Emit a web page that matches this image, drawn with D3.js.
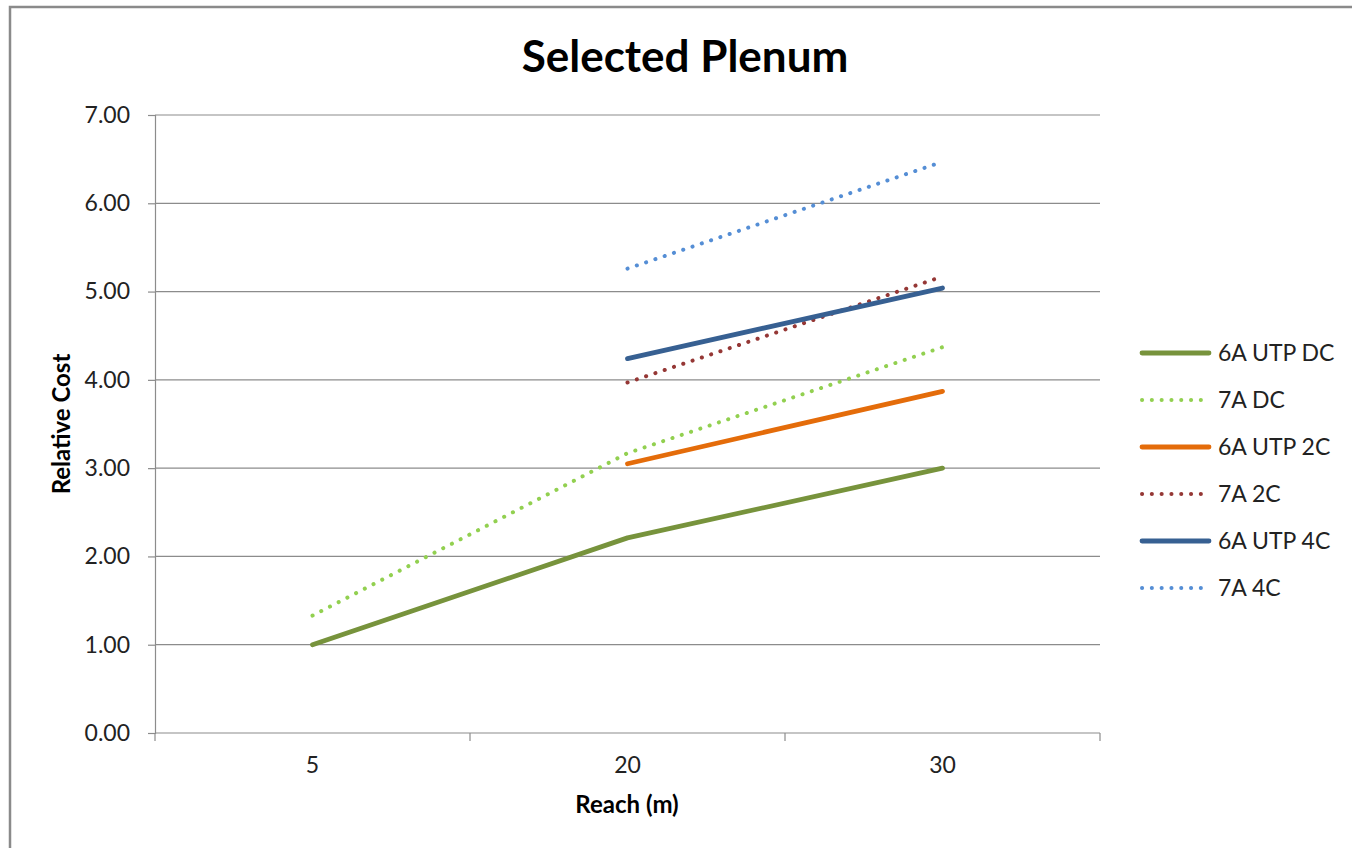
<!DOCTYPE html>
<html>
<head>
<meta charset="utf-8">
<script src="https://cdn.jsdelivr.net/npm/d3@7"></script>
<style>
  html, body { margin: 0; padding: 0; background: #fff; }
  svg { display: block; }
  text { font-family: Lato, "Open Sans", sans-serif; }
</style>
</head>
<body>
<svg id="chart" width="1352" height="848"></svg>
<script>
// Reach categories (m) and relative cost per cable type
const categories = ["5", "20", "30"];
const yTicks = [0, 1, 2, 3, 4, 5, 6, 7];

const cat6aUtpDc = [1.00, 2.21, 3.00];
const cat7aDc    = [1.33, 3.17, 4.37];
const cat6aUtp2c = [null, 3.05, 3.87];
const cat7a2c    = [null, 3.97, 5.17];
const cat6aUtp4c = [null, 4.24, 5.04];
const cat7a4c    = [null, 5.26, 6.47];

const series = [
  { name: "6A UTP DC", values: cat6aUtpDc, color: "#77933C", dotted: false },
  { name: "7A DC",     values: cat7aDc,    color: "#92D050", dotted: true },
  { name: "6A UTP 2C", values: cat6aUtp2c, color: "#E46C0A", dotted: false },
  { name: "7A 2C",     values: cat7a2c,    color: "#953735", dotted: true },
  { name: "6A UTP 4C", values: cat6aUtp4c, color: "#376092", dotted: false },
  { name: "7A 4C",     values: cat7a4c,    color: "#558ED5", dotted: true }
];

const svg = d3.select("#chart");

// chart area frame
svg.append("rect")
  .attr("x", 10).attr("y", 7)
  .attr("width", 1400).attr("height", 900)
  .attr("fill", "#fff")
  .attr("stroke", "#8a8a8a")
  .attr("stroke-width", 2.5);

const plot = { left: 155, right: 1100, top: 115, bottom: 733 };

const x = d3.scaleBand().domain(categories).range([plot.left, plot.right]).padding(0);
const y = d3.scaleLinear().domain([0, 7]).range([plot.bottom, plot.top]);

// horizontal gridlines
svg.append("g")
  .selectAll("line")
  .data(yTicks)
  .join("line")
  .attr("x1", plot.left).attr("x2", plot.right)
  .attr("y1", d => y(d)).attr("y2", d => y(d))
  .attr("stroke", "#8c8c8c")
  .attr("stroke-width", 1.2);

// y axis
const yAxis = svg.append("g")
  .attr("transform", `translate(${plot.left},0)`)
  .call(d3.axisLeft(y).tickValues(yTicks).tickFormat(d3.format(".2f")).tickSize(7).tickPadding(18));
yAxis.select(".domain").attr("stroke", "#8c8c8c").attr("stroke-width", 1.2);
yAxis.selectAll(".tick line").attr("stroke", "#8c8c8c").attr("stroke-width", 1.2);
yAxis.selectAll(".tick text")
  .attr("font-size", 23).attr("fill", "#222")
  .style("font-family", "Lato, sans-serif");

// x axis: ticks fall on the category boundaries
const xAxis = svg.append("g")
  .attr("transform", `translate(0,${plot.bottom})`)
  .call(d3.axisBottom(x).tickSize(0).tickPadding(24));
xAxis.select(".domain").remove();
xAxis.selectAll(".tick text")
  .attr("font-size", 23).attr("fill", "#222")
  .style("font-family", "Lato, sans-serif");
const boundaries = categories.map(c => x(c)).concat([x(categories[categories.length - 1]) + x.bandwidth()]);
svg.append("g")
  .selectAll("line")
  .data(boundaries)
  .join("line")
  .attr("x1", d => d).attr("x2", d => d)
  .attr("y1", plot.bottom).attr("y2", plot.bottom + 8)
  .attr("stroke", "#8c8c8c")
  .attr("stroke-width", 1.2);

// series lines
const line = d3.line()
  .defined(d => d.v != null)
  .x(d => x(d.c) + x.bandwidth() / 2)
  .y(d => y(d.v));

svg.append("g")
  .selectAll("path")
  .data(series)
  .join("path")
  .attr("d", s => line(s.values.map((v, i) => ({ c: categories[i], v }))))
  .attr("fill", "none")
  .attr("stroke", s => s.color)
  .attr("stroke-width", s => s.dotted ? 4 : 4.8)
  .attr("stroke-linecap", "round")
  .attr("stroke-linejoin", "round")
  .attr("stroke-dasharray", s => s.dotted ? "0.1 9.7" : null);

// title
svg.append("text")
  .attr("x", 685).attr("y", 72)
  .attr("text-anchor", "middle")
  .attr("font-size", 44).attr("font-weight", "bold").attr("fill", "#000")
  .text("Selected Plenum");

// axis titles
svg.append("text")
  .attr("x", 627).attr("y", 813)
  .attr("text-anchor", "middle")
  .attr("font-size", 24).attr("font-weight", "bold").attr("fill", "#000")
  .text("Reach (m)");

svg.append("text")
  .attr("transform", "translate(70,424) rotate(-90)")
  .attr("text-anchor", "middle")
  .attr("font-size", 24).attr("font-weight", "bold").attr("fill", "#000")
  .text("Relative Cost");

// legend
const legend = svg.append("g").attr("transform", "translate(1142,353)");
const rows = legend.selectAll("g")
  .data(series)
  .join("g")
  .attr("transform", (d, i) => `translate(0,${i * 47})`);
rows.append("line")
  .attr("x1", 0).attr("x2", 67)
  .attr("y1", 0).attr("y2", 0)
  .attr("stroke", d => d.color)
  .attr("stroke-width", d => d.dotted ? 4 : 4.8)
  .attr("stroke-linecap", "round")
  .attr("stroke-dasharray", d => d.dotted ? "0.1 9.7" : null);
rows.append("text")
  .attr("x", 76).attr("y", 0)
  .attr("dy", "0.35em")
  .attr("font-size", 23).attr("fill", "#222")
  .text(d => d.name);
</script>
</body>
</html>
